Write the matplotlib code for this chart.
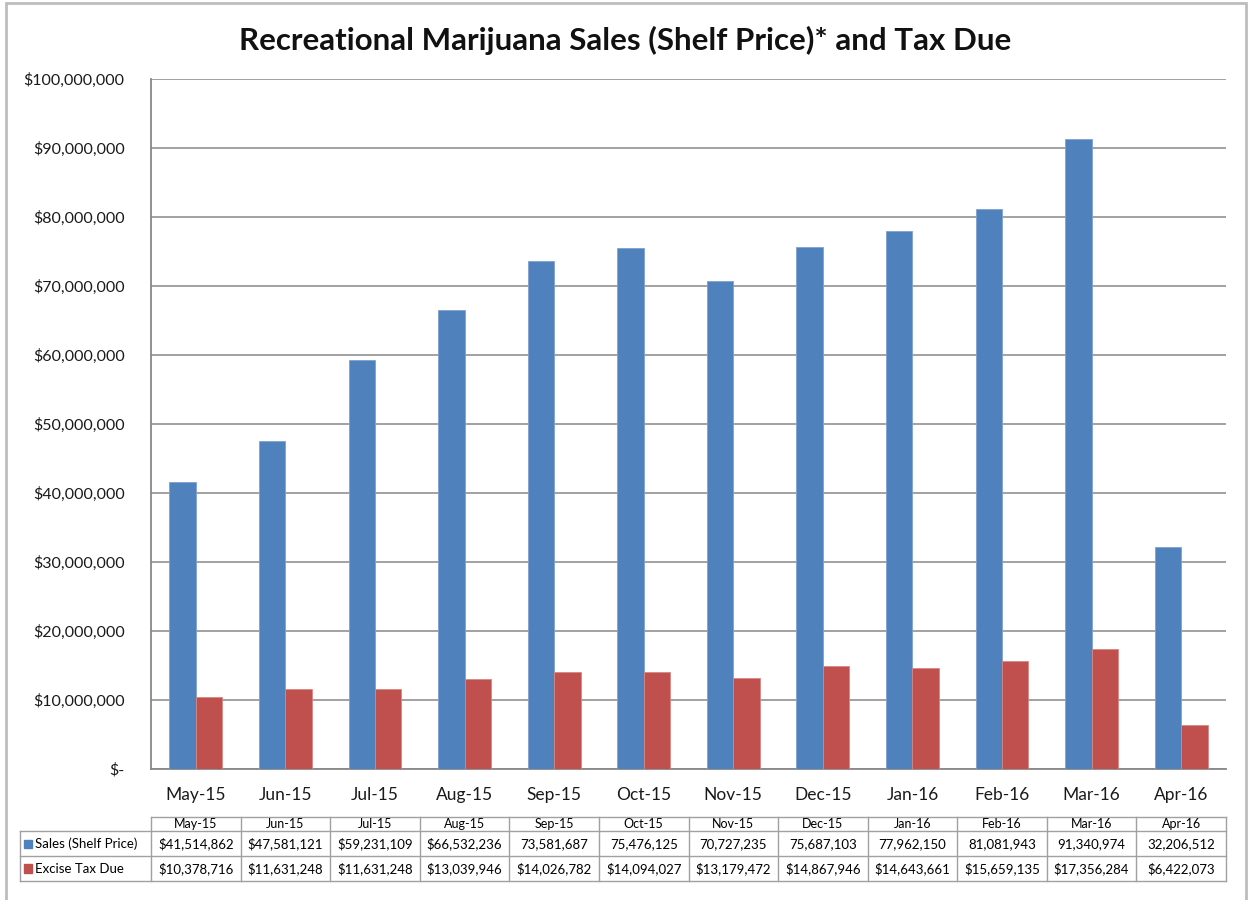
import matplotlib
matplotlib.use('Agg')
import matplotlib.pyplot as plt
from matplotlib.patches import Rectangle
from matplotlib.ticker import FuncFormatter, MultipleLocator
import numpy as np

months = ['May-15', 'Jun-15', 'Jul-15', 'Aug-15', 'Sep-15', 'Oct-15',
          'Nov-15', 'Dec-15', 'Jan-16', 'Feb-16', 'Mar-16', 'Apr-16']
sales = [41514862, 47581121, 59231109, 66532236, 73581687, 75476125,
         70727235, 75687103, 77962150, 81081943, 91340974, 32206512]
excise = [10378716, 11631248, 11631248, 13039946, 14026782, 14094027,
          13179472, 14867946, 14643661, 15659135, 17356284, 6422073]
# the sheet only put a dollar sign on the first four sales cells
sales_dollar = [True, True, True, True, False, False,
                False, False, False, False, False, False]
series_names = ['Sales (Shelf Price)', 'Excise Tax Due']

BLUE = '#4F81BD'
RED = '#C0504D'
GRID = '#888888'

plt.rcParams['font.family'] = ['Lato', 'DejaVu Sans']

fig = plt.figure(figsize=(12.5, 9), dpi=100)
# outer chart frame
fig.patches.append(Rectangle((0.005, -0.01), 0.992, 1.007, transform=fig.transFigure,
                             fill=False, edgecolor='#BDBDBD', linewidth=2))

ax = fig.add_axes([0.1208, 0.1456, 0.86, 0.7667])
x = np.arange(len(months))
w = 0.295
ax.bar(x - w / 2, sales, w, color=BLUE, edgecolor='#7FA2D0', linewidth=0.6, zorder=3)
ax.bar(x + w / 2, excise, w, color=RED, edgecolor='#D88683', linewidth=0.6, zorder=3)

ax.set_xlim(-0.5, len(months) - 0.5)
ax.set_ylim(0, 100000000)
ax.yaxis.set_major_locator(MultipleLocator(10000000))


def money(v, pos=None):
    if v == 0:
        return '$-'
    return '${:,.0f}'.format(v)


ax.yaxis.set_major_formatter(FuncFormatter(money))
ax.yaxis.grid(True, color=GRID, linewidth=1.1, zorder=0)
ax.set_xticks(x)
ax.set_xticklabels(months)
ax.tick_params(axis='both', length=0, colors='#1a1a1a')
ax.tick_params(axis='y', pad=19, labelsize=11.5)
ax.tick_params(axis='x', pad=13, labelsize=12.5)
for s in ['top', 'right']:
    ax.spines[s].set_visible(False)
for s in ['left', 'bottom']:
    ax.spines[s].set_color(GRID)
    ax.spines[s].set_linewidth(1.3)

fig.text(0.5, 0.955, 'Recreational Marijuana Sales (Shelf Price)* and Tax Due',
         ha='center', va='center', fontsize=22.5, fontweight='bold', color='#111111')

# data table under the axis
label_w = 131 / 1075.0
x0 = -label_w
y_rows = [-0.0696, -0.0906, -0.1265, -0.1623]
tkw = dict(transform=ax.transAxes, clip_on=False)
cell_edge = '#A0A0A0'


def hline(xa, xb, y):
    ax.plot([xa, xb], [y, y], color=cell_edge, linewidth=1.0, **tkw)


def vline(xv, ya, yb):
    ax.plot([xv, xv], [ya, yb], color=cell_edge, linewidth=1.0, **tkw)


hline(0, 1, y_rows[0])
for y in y_rows[1:]:
    hline(x0, 1, y)
vline(x0, y_rows[1], y_rows[3])
for i in range(len(months) + 1):
    vline(i / len(months), y_rows[0], y_rows[3])

cw = 1.0 / len(months)
for i, m in enumerate(months):
    cx = (i + 0.5) * cw
    ax.text(cx, (y_rows[0] + y_rows[1]) / 2, m, ha='center', va='center', fontsize=9, **tkw)
    s_txt = ('$' if sales_dollar[i] else '') + '{:,}'.format(sales[i])
    ax.text(cx, (y_rows[1] + y_rows[2]) / 2, s_txt, ha='center', va='center', fontsize=9.5, **tkw)
    ax.text(cx, (y_rows[2] + y_rows[3]) / 2, '${:,}'.format(excise[i]),
            ha='center', va='center', fontsize=9.5, **tkw)

for r, (name, col) in enumerate(zip(series_names, [BLUE, RED])):
    yc = (y_rows[r + 1] + y_rows[r + 2]) / 2
    ax.add_patch(Rectangle((x0 + 0.004, yc - 0.006), 0.0075, 0.012, color=col, **tkw))
    ax.text(x0 + 0.014, yc, name, ha='left', va='center', fontsize=9.5, **tkw)

fig.savefig('out.png', dpi=100)
